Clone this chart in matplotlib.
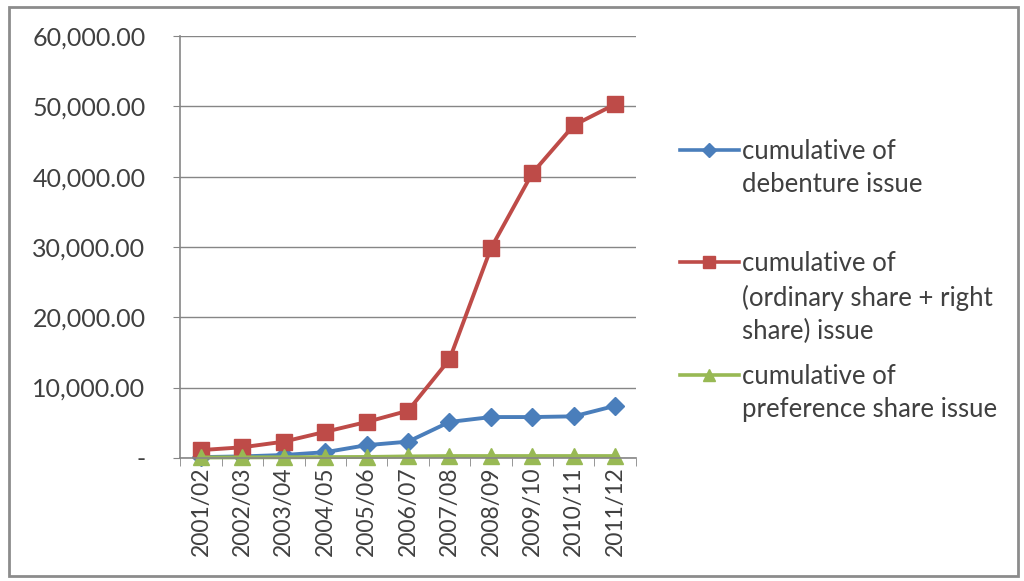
import matplotlib
matplotlib.use("Agg")
from matplotlib import pyplot as plt
from matplotlib.lines import Line2D
from matplotlib.patches import Rectangle
from matplotlib.ticker import FuncFormatter, MultipleLocator

plt.rcParams['font.family'] = ['Lato', 'DejaVu Sans']

years = ['2001/02', '2002/03', '2003/04', '2004/05', '2005/06', '2006/07',
         '2007/08', '2008/09', '2009/10', '2010/11', '2011/12']
debenture = [100, 200, 400, 800, 1800, 2300, 5100, 5800, 5800, 5900, 7400]
ordinary_right = [1100, 1500, 2300, 3700, 5100, 6700, 14000, 29800, 40500, 47300, 50300]
preference = [50, 60, 80, 100, 120, 200, 250, 250, 250, 250, 250]

labels = ['cumulative of\ndebenture issue',
          'cumulative of\n(ordinary share + right\nshare) issue',
          'cumulative of\npreference share issue']
colors = ['#4a7ebb', '#be4b48', '#98b954']
markers = ['D', 's', '^']
msizes = [9, 12, 12]
txt = '#404040'

fig = plt.figure(figsize=(10.24, 5.81), dpi=100)
ax = fig.add_axes([0.176, 0.212, 0.445, 0.726])

x = list(range(len(years)))
for series, c, m, ms in zip([debenture, ordinary_right, preference], colors, markers, msizes):
    ax.plot(x, series, color=c, marker=m, markersize=ms, linewidth=2.8, clip_on=False)

ax.set_xlim(-0.5, len(years) - 0.5)
ax.set_ylim(0, 60000)
ax.yaxis.set_major_locator(MultipleLocator(10000))
ax.yaxis.set_major_formatter(FuncFormatter(lambda v, p: '-' if v == 0 else f'{v:,.2f}'))
ax.grid(axis='y', color='#868686', linewidth=1)
ax.set_axisbelow(True)

ax.set_xticks(x)
ax.set_xticklabels(years, rotation=90)
ax.set_xticks([i - 0.5 for i in range(len(years) + 1)], minor=True)
ax.tick_params(axis='x', which='major', length=0, labelsize=16.5, pad=6, colors=txt)
ax.tick_params(axis='x', which='minor', length=6, color='#868686')
ax.tick_params(axis='y', length=5, color='#868686', labelsize=18, pad=20, labelcolor=txt)

for s in ['top', 'right']:
    ax.spines[s].set_visible(False)
for s in ['left', 'bottom']:
    ax.spines[s].set_color('#868686')
    ax.spines[s].set_linewidth(1.2)

# legend drawn by hand so the marker sits on the first text line
leg_y = [1 - 150 / 581, 1 - 262 / 581, 1 - 375 / 581]
for lab, c, m, ms, yy in zip(labels, colors, markers, msizes, leg_y):
    fig.add_artist(Line2D([0.664, 0.722], [yy, yy], color=c, linewidth=2.6,
                          transform=fig.transFigure))
    fig.add_artist(Line2D([0.692], [yy], color=c, marker=m, markersize=ms * 0.75,
                          transform=fig.transFigure))
    fig.text(0.725, yy + 0.019, lab, fontsize=18.5, color=txt, va='top',
             linespacing=1.42, transform=fig.transFigure)

fig.add_artist(Rectangle((0.009, 0.008), 0.985, 0.98, fill=False,
                         edgecolor='#8c8c8c', linewidth=2, transform=fig.transFigure))

fig.savefig('out.png', dpi=100)
